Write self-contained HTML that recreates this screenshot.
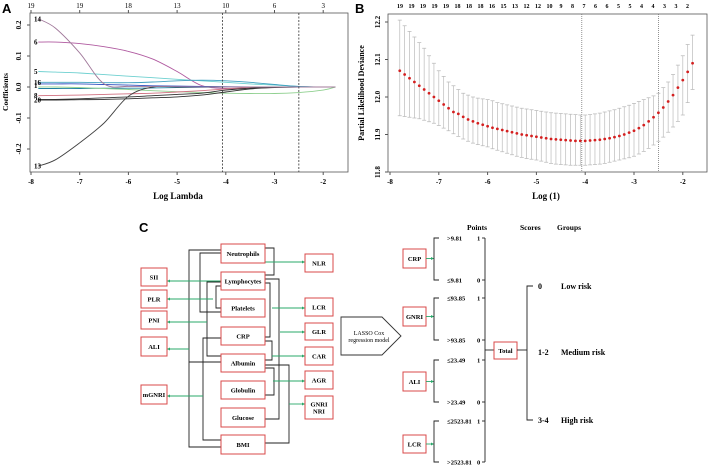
<!DOCTYPE html>
<html><head><meta charset="utf-8"><style>
html,body{margin:0;padding:0;background:#fff;}
svg{display:block;font-family:"Liberation Serif",serif;}
.b{font-weight:bold;}
</style></head><body>
<svg id="fig" width="708" height="466" viewBox="0 0 708 466" xmlns="http://www.w3.org/2000/svg">
<g id="panelA"></g>
<g id="panelB"></g>
<g id="panelC"></g>
</svg>
<script>
// ---------- Panel A data ----------
const aLambda = [-7.85,-7.5,-7,-6.5,-6,-5.5,-5,-4.5,-4,-3.5,-3,-2.5,-2,-1.75];
const aSeriesNames = ["6","5","c4","c9","c11","green","8","2","20","13","14"];
const aS14 = [0.22,0.19,0.11,0.01,0.002,0.002,0.001,0,0,0,0,0,0,0];
const aS6 = [0.145,0.145,0.14,0.13,0.115,0.09,0.05,0.005,-0.005,-0.003,0,0,0,0];
const aS5 = [0.05,0.048,0.045,0.04,0.035,0.03,0.025,0.02,0.015,0.01,0.006,0.002,0,0];
const aS4 = [0.015,0.015,0.015,0.014,0.014,0.016,0.02,0.022,0.02,0.015,0.008,0.002,0,0];
const aS9 = [0.01,0.01,0.01,0.008,0.006,0.004,0.003,0.002,0.001,0,0,0,0,0];
const aS11 = [-0.005,-0.005,-0.005,-0.004,-0.004,-0.003,-0.002,-0.001,0,0,0,0,0,0];
const aS13 = [-0.255,-0.235,-0.18,-0.116,-0.03,0,0,0,0,0,0,0,0,0];
const aS8 = [-0.028,-0.027,-0.026,-0.024,-0.022,-0.02,-0.016,-0.012,-0.006,-0.002,0,0,0,0];
const aS2 = [-0.04,-0.04,-0.038,-0.035,-0.032,-0.028,-0.024,-0.02,-0.01,-0.004,0,0,0,0];
const aS20 = [-0.042,-0.042,-0.041,-0.04,-0.038,-0.035,-0.032,-0.026,-0.016,-0.006,-0.002,0,0,0];
const aSG = [0,0,-0.002,-0.005,-0.008,-0.012,-0.015,-0.018,-0.02,-0.021,-0.021,-0.018,-0.01,0];
const aXTicks = [-8,-7,-6,-5,-4,-3,-2];
const aYTicks = [0.2,0.1,0.0,-0.1,-0.2];
const aTopLabels = ["19","19","18","13","10","6","3"];
const aVLines = [-4.07,-2.5];

// ---------- Panel B data ----------
const bLambda = [-7.8,-7.7,-7.6,-7.5,-7.4,-7.3,-7.2,-7.1,-7.0,-6.9,-6.8,-6.7,-6.6,-6.5,-6.4,-6.3,-6.2,-6.1,-6.0,-5.9,-5.8,-5.7,-5.6,-5.5,-5.4,-5.3,-5.2,-5.1,-5.0,-4.9,-4.8,-4.7,-4.6,-4.5,-4.4,-4.3,-4.2,-4.1,-4.0,-3.9,-3.8,-3.7,-3.6,-3.5,-3.4,-3.3,-3.2,-3.1,-3.0,-2.9,-2.8,-2.7,-2.6,-2.5,-2.4,-2.3,-2.2,-2.1,-2.0,-1.9,-1.8];
const bMean = [12.07,12.06,12.05,12.04,12.03,12.02,12.01,12.00,11.99,11.98,11.97,11.96,11.955,11.947,11.94,11.935,11.93,11.926,11.922,11.918,11.915,11.912,11.909,11.906,11.903,11.9,11.898,11.896,11.894,11.892,11.89,11.888,11.887,11.886,11.885,11.884,11.883,11.883,11.883,11.884,11.885,11.886,11.888,11.89,11.893,11.896,11.9,11.905,11.91,11.917,11.925,11.935,11.946,11.958,11.972,11.988,12.005,12.025,12.045,12.067,12.09];
const bUpper = [12.205,12.19,12.175,12.16,12.145,12.13,12.11,12.09,12.07,12.055,12.04,12.03,12.02,12.01,12.005,12.0,11.997,11.995,11.993,11.99,11.985,11.982,11.979,11.976,11.973,11.97,11.968,11.966,11.964,11.962,11.96,11.958,11.957,11.956,11.955,11.954,11.953,11.952,11.952,11.953,11.955,11.957,11.96,11.963,11.966,11.97,11.974,11.978,11.983,11.988,11.993,11.998,12.003,12.01,12.025,12.04,12.06,12.085,12.11,12.14,12.165];
const bLower = [11.95,11.948,11.946,11.944,11.942,11.938,11.934,11.93,11.924,11.917,11.91,11.902,11.895,11.888,11.882,11.877,11.873,11.87,11.867,11.862,11.858,11.854,11.85,11.846,11.842,11.839,11.836,11.834,11.832,11.829,11.826,11.823,11.821,11.82,11.819,11.818,11.818,11.818,11.818,11.819,11.82,11.821,11.823,11.826,11.829,11.832,11.835,11.838,11.842,11.848,11.855,11.863,11.872,11.882,11.893,11.906,11.92,11.935,11.952,11.985,12.02];
const bXTicks = [-8,-7,-6,-5,-4,-3,-2];
const bYTicks = [12.2,12.1,12.0,11.9,11.8];
const bTopLabels = ["19","19","19","19","19","18","18","18","16","15","13","12","12","10","9","8","7","6","6","5","5","4","4","3","3","2"];
const bVLines = [-4.07,-2.5];

const NS="http://www.w3.org/2000/svg";
function mk(parent,tag,attrs,text){const e=document.createElementNS(NS,tag);for(const k in attrs)e.setAttribute(k,attrs[k]);if(text!==undefined)e.textContent=text;parent.appendChild(e);return e;}
function smooth(pts){
  let d='M'+pts[0][0].toFixed(1)+','+pts[0][1].toFixed(1);
  for(let i=0;i<pts.length-1;i++){
    const p0=pts[i-1]||pts[i],p1=pts[i],p2=pts[i+1],p3=pts[i+2]||p2;
    const c1x=p1[0]+(p2[0]-p0[0])/6,c1y=p1[1]+(p2[1]-p0[1])/6;
    const c2x=p2[0]-(p3[0]-p1[0])/6,c2y=p2[1]-(p3[1]-p1[1])/6;
    d+=`C${c1x.toFixed(1)},${c1y.toFixed(1)} ${c2x.toFixed(1)},${c2y.toFixed(1)} ${p2[0].toFixed(1)},${p2[1].toFixed(1)}`;
  }
  return d;
}

// ---------- Draw A ----------
(function(){
  const g=document.getElementById('panelA');
  const x=v=>31+(v+8)*48.7, y=v=>87-v*310;
  let t=mk(g,'text',{x:2,y:13,'font-family':'Liberation Sans,sans-serif','font-size':13,'font-weight':'bold'},'A');
  
  
  let r=mk(g,'rect',{x:30,y:13,width:318,height:159,fill:'none',stroke:'#555','stroke-width':0.8});
  
  
  aXTicks.forEach(v=>{mk(g,'line',{x1:x(v),x2:x(v),y1:172,y2:175,stroke:'#555'});
    const tl=mk(g,'text',{x:x(v),y:184,'font-size':7,'text-anchor':'middle',class:'b'},String(v));
    
    });
  aYTicks.forEach(v=>{mk(g,'line',{x1:27,x2:30,y1:y(v),y2:y(v),stroke:'#555'});
    const tl=mk(g,'text',{x:21,y:y(v),'font-size':7,'text-anchor':'middle',class:'b',transform:`rotate(-90 21 ${y(v)})`},v.toFixed(1));
    
    });
  aTopLabels.forEach((s,i)=>{const xv=-8+i;mk(g,'line',{x1:x(xv),x2:x(xv),y1:13,y2:10,stroke:'#555'});
    const tl=mk(g,'text',{x:x(xv),y:8,'font-size':7,'text-anchor':'middle'},s);
    
    });
  let at=mk(g,'text',{x:178,y:199,'font-size':9,'text-anchor':'middle',class:'b'},'Log Lambda');
  
  
  let yt=mk(g,'text',{x:8,y:92,'font-size':7.5,'text-anchor':'middle',class:'b',transform:'rotate(-90 8 92)'},'Coefficients');
  
  
  const series=[[aS6,'#b05aa0'],[aS5,'#6ed0d0'],[aS4,'#40a0c0'],[aS9,'#3050c0'],[aS11,'#2080a0'],[aSG,'#90d090'],[aS8,'#d07080'],[aS2,'#303030'],[aS20,'#303030'],[aS13,'#404040'],[aS14,'#a0789a']];
  series.forEach(([s,c],i)=>{
    const d=smooth(s.map((v,j)=>[x(aLambda[j]),y(v)]));
    const p=mk(g,'path',{d,fill:'none',stroke:c,'stroke-width':0.9});
    
    
  });
  aVLines.forEach(v=>{const l=mk(g,'line',{x1:x(v),x2:x(v),y1:13,y2:172,stroke:'#333','stroke-dasharray':'2,1.5','stroke-width':0.8});
    
    });
  [["14",0.22],["6",0.145],["5",0.05],["16",0.015],["1",0.005],["8",-0.028],["20",-0.042],["13",-0.255]].forEach(([s,v])=>{
    const tl=mk(g,'text',{x:34,y:y(v)+2.5,'font-size':7,class:'b'},s);
    
    });
})();

// ---------- Draw B ----------
(function(){
  const g=document.getElementById('panelB');
  const x=v=>390+(v+8)*48.8, y=v=>172-(v-11.8)*375;
  let t=mk(g,'text',{x:355,y:13,'font-family':'Liberation Sans,sans-serif','font-size':13,'font-weight':'bold'},'B');
  
  
  let r=mk(g,'rect',{x:388,y:14,width:319,height:158,fill:'none',stroke:'#555','stroke-width':0.8});
  
  
  bXTicks.forEach(v=>{mk(g,'line',{x1:x(v),x2:x(v),y1:172,y2:175,stroke:'#555'});
    const tl=mk(g,'text',{x:x(v),y:184,'font-size':7,'text-anchor':'middle',class:'b'},String(v));
    
    });
  bYTicks.forEach(v=>{mk(g,'line',{x1:385,x2:388,y1:y(v),y2:y(v),stroke:'#555'});
    const tl=mk(g,'text',{x:380,y:y(v),'font-size':7,'text-anchor':'middle',class:'b',transform:`rotate(-90 380 ${y(v)})`},v.toFixed(1));
    
    });
  bTopLabels.forEach((s,i)=>{const tl=mk(g,'text',{x:400+i*11.5,y:8,'font-size':6,'text-anchor':'middle',class:'b'},s);
    
    });
  let at=mk(g,'text',{x:546,y:199,'font-size':9,'text-anchor':'middle',class:'b'},'Log  (1)');
  
  
  let yt=mk(g,'text',{x:364,y:93,'font-size':8,'text-anchor':'middle',class:'b',transform:'rotate(-90 364 93)'},'Partial Likelihood Deviance');
  
  
  bVLines.forEach(v=>{const l=mk(g,'line',{x1:x(v),x2:x(v),y1:14,y2:172,stroke:'#777','stroke-dasharray':'1,1','stroke-width':0.8});
    
    });
  bLambda.forEach((lv,i)=>{
    const xx=x(lv);
    const eb=mk(g,'path',{d:`M${xx},${y(bUpper[i])}L${xx},${y(bLower[i])}M${xx-2},${y(bUpper[i])}L${xx+2},${y(bUpper[i])}M${xx-2},${y(bLower[i])}L${xx+2},${y(bLower[i])}`,stroke:'#bbb','stroke-width':0.7,fill:'none'});
    
    
    const c=mk(g,'circle',{cx:xx,cy:y(bMean[i]),r:1.4,fill:'#d42020'});
    
    
  });
})();

// ---------- Draw C ----------
(function(){
  const g=document.getElementById('panelC');
  const R='#d94848', GR='#2aa86a', K='#222';
  let t=mk(g,'text',{x:139,y:232,'font-family':'Liberation Sans,sans-serif','font-size':13,'font-weight':'bold'},'C');
  
  
  function box(x1,y1,x2,y2,lines,name){
    const r=mk(g,'rect',{x:x1,y:y1,width:x2-x1,height:y2-y1,fill:'#fff',stroke:R,'stroke-width':1});
    
    
    const cy=(y1+y2)/2, n=lines.length;
    lines.forEach((s,i)=>{const tt=mk(g,'text',{x:(x1+x2)/2,y:cy+2.5+(i-(n-1)/2)*7,'font-size':6.5,'text-anchor':'middle',class:'b'},s);
      
      });
  }
  function ln(pts,col,w){const p=mk(g,'polyline',{points:pts,fill:'none',stroke:col||K,'stroke-width':w||0.9});
    
    }
  function arr(x1,y,x2){ln(`${x1},${y} ${x2},${y}`,GR,0.9);
    const d=x2>x1?-1:1;
    const h=mk(g,'path',{d:`M${x2},${y}L${x2+3*d},${y-1.5}L${x2+3*d},${y+1.5}Z`,fill:GR});
    
    }
  ln('221,250 189,250 189,447 221,447');ln('189,362 221,362');
  ln('221,253 200,253 200,312 221,312');
  ln('265,248 274,248 274,275 265,275');
  ln('221,282 207,282 207,356 221,356');
  ln('221,286 216,286 216,308 221,308');
  ln('265,283 270,283 270,337 265,337');
  ln('265,279 279,279 279,419 265,419');
  ln('221,338 203,338 203,440 221,440');
  ln('265,341 272,341 272,360 265,360');
  ln('265,368 274,368 274,395 265,395');
  ln('265,365 289,365 289,443 265,443');
  arr(265,262,305);arr(221,281,167);arr(213,299,167);arr(207,322,167);arr(189,349,167);arr(203,396,167);
  arr(272,308,305);arr(280,332,305);arr(272,356,305);arr(273,381,305);arr(289,404,305);
  [['Neutrophils',244,263],['Lymphocytes',272,290],['Platelets',299,317],['CRP',327,345],['Albumin',354,372],['Globulin',381,399],['Glucose',408,427],['BMI',435,454]].forEach(([s,a,b])=>box(221,a,265,b,[s],s.toLowerCase()));
  [['SII',268,286],['PLR',290,308],['PNI',311,329],['ALI',337,356],['mGNRI',385,404]].forEach(([s,a,b])=>box(141,a,167,b,[s],s.toLowerCase()));
  [['NLR',254,272],['LCR',298,316],['GLR',323,340],['CAR',347,365],['AGR',371,389]].forEach(([s,a,b])=>box(305,a,333,b,[s],s.toLowerCase()));
  box(305,396,333,419,['GNRI','NRI'],'gnri-nri');
  const pent=mk(g,'path',{d:'M341,317L382,317L401,336L382,355L341,355Z',fill:'#fff',stroke:'#333','stroke-width':0.9});
  
  
  [['LASSO Cox',335],['regression model',342]].forEach(([s,yy])=>{const tt=mk(g,'text',{x:369,y:yy,'font-size':6,'text-anchor':'middle'},s);
    
    });
  const items=[['CRP',249,268,238,280,'>9.81','\u22649.81'],['GNRI',307,326,298,340,'\u226493.85','>93.85'],['ALI',372,391,360,402,'\u226423.49','>23.49'],['LCR',435,453,421,462,'\u22642523.81','>2523.81']];
  items.forEach(([n,a,b,t1,t2,l1,l2])=>{
    box(403,a,426,b,[n],'score-'+n.toLowerCase());
    arr(426,(a+b)/2,434);
    ln(`439,${t1} 434,${t1} 434,${t2} 439,${t2}`);
    [[l1,t1,'1'],[l2,t2,'0']].forEach(([s,yy,p])=>{
      const tt=mk(g,'text',{x:447,y:yy+2.5,'font-size':6.5,class:'b'},s);
      
      
      const pp=mk(g,'text',{x:477,y:yy+2.5,'font-size':6.5,class:'b'},p);
      
      
      ln(`482,${yy} 485,${yy}`);
    });
  });
  ln('485,238 485,462');ln('485,350 494,350');
  box(494,342,517,359,['Total'],'total');
  ln('517,350 527,350');ln('533,286 527,286 527,420 533,420');
  [['Points',467,230],['Scores',520,230],['Groups',557,230]].forEach(([s,xx,yy])=>{const tt=mk(g,'text',{x:xx,y:yy,'font-size':7.5,class:'b'},s);
    
    });
  [['0','Low risk',286],['1-2','Medium risk',352],['3-4','High risk',420]].forEach(([s,gname,yy])=>{
    const a=mk(g,'text',{x:538,y:yy+3,'font-size':8,class:'b'},s);
    
    
    const b=mk(g,'text',{x:561,y:yy+3,'font-size':8,class:'b'},gname);
    
    
  });
})();
</script>
</body></html>
